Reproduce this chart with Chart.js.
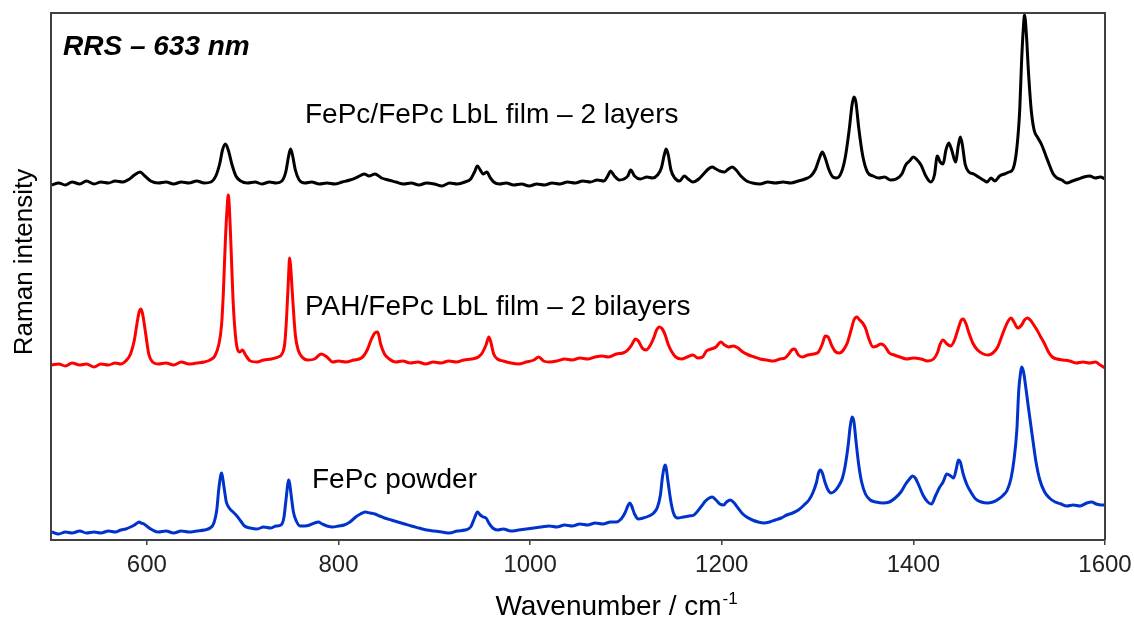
<!DOCTYPE html>
<html>
<head>
<meta charset="utf-8">
<script src="https://cdn.jsdelivr.net/npm/chart.js@4.4.0/dist/chart.umd.min.js"></script>
<style>
html,body{margin:0;padding:0;background:#fff;}
#wrap{width:1134px;height:620px;position:relative;}
</style>
</head>
<body>
<div id="wrap"><canvas id="c" width="1134" height="620"></canvas></div>
<script>
// ---- Data (wavenumber / cm-1, Raman intensity in arbitrary offset units) ----
const xTicks = [600, 800, 1000, 1200, 1400, 1600];

// FePc/FePc LbL film – 2 layers (black)
const filmX = [
  501,508,515,522,530,537,545,552,560,567,
  575,582,587,593,598,604,612,620,628,636,
  644,652,660,667,672,676,679,682,685,689,
  693,698,705,713,720,728,735,741,745,748,
  750,752,755,759,765,772,780,788,796,804,
  812,820,827,832,838,845,852,860,868,876,
  884,892,900,908,916,924,932,938,942,945,
  948,951,955,958,962,968,975,983,991,999,
  1007,1015,1023,1031,1039,1047,1055,1063,1070,1077,
  1081,1084,1088,1093,1098,1102,1105,1109,1115,1122,
  1128,1133,1137,1140,1142,1144,1147,1151,1156,1161,
  1165,1170,1176,1181,1186,1190,1194,1198,1203,1207,
  1211,1215,1220,1226,1232,1240,1248,1256,1264,1272,
  1280,1287,1293,1298,1302,1305,1308,1312,1316,1320,
  1325,1329,1333,1336,1338,1340,1343,1347,1352,1358,
  1364,1370,1376,1382,1388,1392,1396,1400,1404,1408,
  1413,1418,1422,1425,1428,1431,1434,1437,1440,1444,
  1447,1449,1451,1454,1458,1463,1468,1473,1477,1481,
  1485,1490,1495,1500,1504,1508,1511,1513,1515,1516,
  1518,1520,1523,1526,1530,1534,1538,1542,1546,1550,
  1555,1560,1566,1572,1578,1584,1590,1595,1600];
const filmY = [
  355,357,355,358,356,359,356,358,357,359,
  358,361,365,368,364,359,357,358,356,358,
  357,359,357,358,364,376,390,396,390,375,
  364,359,357,358,356,358,357,359,368,384,
  391,385,370,360,357,358,356,357,356,358,
  360,363,366,364,366,362,360,358,356,357,
  355,357,356,354,357,356,358,361,368,374,
  370,366,368,363,358,356,357,355,356,354,
  356,355,357,356,358,357,359,358,360,359,
  364,369,364,360,361,364,370,364,361,363,
  362,365,372,385,391,386,370,362,359,364,
  361,358,361,366,371,373,371,369,368,371,
  373,370,364,359,357,356,358,357,358,357,
  359,361,364,371,382,388,382,370,363,362,
  368,383,410,435,443,438,412,385,368,364,
  362,363,360,361,366,375,379,383,380,375,
  364,358,365,384,378,376,390,397,390,378,
  395,403,396,376,368,366,363,360,358,362,
  359,364,366,368,371,392,430,480,515,525,
  505,470,430,410,402,395,385,375,366,362,
  360,357,359,361,363,364,362,363,361];

// PAH/FePc LbL film – 2 bilayers (red)
const bilayerX = [
  501,508,515,522,530,537,545,552,560,567,
  573,578,583,587,590,592,594,596,599,602,
  606,612,620,628,636,644,652,660,666,671,
  675,678,680,682,684,685,686,688,690,693,
  697,700,703,708,715,722,730,737,741,744,
  746,748,749,750,752,755,758,762,768,775,
  782,788,794,800,808,816,824,830,834,838,
  841,844,848,853,860,867,875,883,891,899,
  907,915,923,931,939,946,950,954,957,959,
  962,966,972,980,988,996,1004,1009,1014,1020,
  1028,1036,1044,1052,1060,1068,1075,1082,1090,1097,
  1102,1106,1110,1113,1117,1121,1125,1129,1132,1135,
  1138,1141,1144,1148,1152,1158,1164,1170,1175,1180,
  1184,1189,1194,1199,1203,1207,1212,1217,1222,1228,
  1234,1240,1247,1254,1261,1266,1270,1273,1276,1280,
  1284,1290,1296,1301,1305,1308,1311,1315,1319,1323,
  1327,1331,1335,1338,1341,1344,1347,1350,1354,1358,
  1362,1366,1370,1375,1380,1386,1393,1400,1408,1415,
  1421,1425,1428,1431,1435,1439,1443,1447,1450,1452,
  1455,1458,1462,1467,1473,1478,1483,1488,1492,1496,
  1499,1502,1505,1509,1513,1516,1519,1522,1525,1529,
  1533,1537,1541,1545,1550,1556,1563,1570,1577,1584,
  1590,1595,1600];
const bilayerY = [
  175,176,174,177,175,176,173,176,175,177,
  176,179,186,200,218,228,231,224,205,186,
  178,176,177,175,178,176,177,178,180,184,
  195,215,250,300,335,345,335,290,240,200,
  188,190,185,179,178,180,181,183,186,197,
  225,265,282,275,245,205,190,183,180,181,
  186,183,178,179,178,180,182,190,200,207,
  208,196,186,181,178,179,177,178,176,178,
  177,179,178,180,181,183,187,195,203,198,
  186,181,179,177,176,178,180,183,179,178,
  179,181,180,182,181,183,184,183,186,187,
  190,195,201,199,192,190,194,202,210,213,
  211,205,196,188,183,181,183,185,182,183,
  189,191,193,198,195,193,194,192,188,185,
  183,181,180,179,181,182,186,190,191,185,
  183,185,186,188,196,204,203,194,188,187,
  190,197,210,220,223,220,217,212,200,193,
  194,196,194,187,185,183,181,182,181,179,
  181,187,196,200,196,194,200,212,220,221,
  216,207,197,190,186,185,187,193,203,213,
  219,222,218,212,215,220,222,220,216,210,
  203,196,188,183,181,180,179,177,178,177,
  178,175,172];

// FePc powder (blue)
const powderX = [
  501,508,515,522,530,537,545,552,560,567,
  573,578,583,587,590,592,594,597,601,606,
  612,620,628,636,644,652,660,666,670,673,
  675,677,678,679,681,683,686,690,694,698,
  702,708,715,722,729,735,740,743,745,747,
  748,749,751,753,756,760,765,770,775,779,
  783,788,794,800,806,812,818,823,828,833,
  838,843,848,855,862,869,876,884,892,900,
  908,916,924,932,938,942,945,948,951,954,
  957,961,966,972,980,988,996,1004,1012,1020,
  1028,1036,1044,1052,1060,1068,1076,1084,1090,1095,
  1099,1102,1104,1106,1109,1113,1118,1124,1129,1133,
  1136,1138,1140,1141,1142,1144,1147,1150,1154,1160,
  1166,1171,1175,1179,1183,1187,1190,1194,1198,1202,
  1205,1209,1213,1217,1221,1226,1232,1238,1244,1250,
  1256,1262,1268,1274,1280,1286,1291,1295,1299,1301,
  1303,1305,1308,1311,1314,1318,1322,1326,1329,1332,
  1334,1336,1338,1340,1343,1346,1350,1355,1361,1368,
  1375,1381,1387,1392,1396,1399,1402,1406,1410,1415,
  1419,1423,1427,1431,1435,1439,1442,1445,1447,1449,
  1452,1456,1460,1465,1471,1477,1483,1489,1494,1498,
  1502,1505,1508,1510,1512,1513,1515,1517,1520,1524,
  1528,1532,1537,1542,1548,1554,1560,1567,1574,1581,
  1586,1591,1596,1600];
const powderY = [
  8,6,8,7,9,7,8,7,9,8,
  10,11,13,15,17,18,17,16,13,10,
  8,9,7,9,8,9,10,12,17,30,
  50,64,67,63,50,38,32,28,24,19,
  14,12,11,13,12,14,15,22,38,55,
  60,57,42,28,19,14,14,15,17,18,
  16,14,13,14,15,18,23,26,28,27,
  26,24,22,20,18,16,14,12,10,9,
  8,7,9,10,13,22,28,25,23,22,
  17,12,10,11,9,10,11,12,13,14,
  13,15,14,16,15,17,16,18,18,21,
  27,34,37,34,26,21,22,24,27,33,
  45,62,73,75,72,58,38,26,22,23,
  24,25,29,34,39,42,43,40,36,35,
  38,40,37,32,27,23,20,18,17,18,
  20,22,25,27,30,35,40,47,58,67,
  70,67,57,50,47,49,54,62,75,95,
  113,123,118,100,75,58,46,40,38,37,
  38,42,48,56,61,64,62,54,45,38,
  36,44,52,58,66,64,62,72,80,78,
  66,55,48,41,38,37,38,41,45,50,
  62,80,110,150,168,173,168,155,133,105,
  78,60,48,42,38,36,34,35,34,37,
  38,36,35,35];

const seriesNames = ["FePc/FePc LbL film – 2 layers", "PAH/FePc LbL film – 2 bilayers", "FePc powder"];
const seriesColors = ["#000000", "#ff0000", "#0033cc"];

const toPts = (xs, ys) => xs.map((x, i) => ({x: x, y: ys[i]}));

const FONT = "'Liberation Sans', Arial, sans-serif";
const AXIS = "#404040";

const annotate = {
  id: 'annotate',
  afterDraw(chart) {
    const ctx = chart.ctx;
    const a = chart.chartArea;
    ctx.save();
    // frame top & right
    ctx.strokeStyle = AXIS;
    ctx.lineWidth = 2;
    ctx.beginPath();
    ctx.moveTo(a.left, a.top);
    ctx.lineTo(a.right, a.top);
    ctx.lineTo(a.right, a.bottom);
    ctx.stroke();

    ctx.fillStyle = "#000";
    ctx.textBaseline = "alphabetic";
    ctx.textAlign = "left";
    // title inside plot
    ctx.font = "italic bold 28px " + FONT;
    ctx.fillText("RRS – 633 nm", a.left + 12, a.top + 42);
    // series labels
    ctx.font = "28px " + FONT;
    ctx.fillText(seriesNames[0], a.left + 254, a.top + 110);
    ctx.fillText(seriesNames[1], a.left + 254, a.top + 302);
    ctx.fillText(seriesNames[2], a.left + 261, a.top + 475);

    // x axis title with superscript
    const xt = "Wavenumber / cm";
    ctx.font = "28px " + FONT;
    const w1 = ctx.measureText(xt).width;
    ctx.font = "17px " + FONT;
    const w2 = ctx.measureText("-1").width;
    const cx = (a.left + a.right) / 2 + 38;
    const x0 = cx - (w1 + w2) / 2;
    ctx.font = "28px " + FONT;
    ctx.fillText(xt, x0, 615);
    ctx.font = "17px " + FONT;
    ctx.fillText("-1", x0 + w1 + 1, 604);

    // y axis title
    ctx.font = "26px " + FONT;
    ctx.translate(32, 262);
    ctx.rotate(-Math.PI / 2);
    ctx.textAlign = "center";
    ctx.fillText("Raman intensity", 0, 0);
    ctx.restore();
  }
};

new Chart(document.getElementById('c'), {
  type: 'line',
  data: {
    datasets: [
      {label: seriesNames[0], data: toPts(filmX, filmY), borderColor: seriesColors[0]},
      {label: seriesNames[1], data: toPts(bilayerX, bilayerY), borderColor: seriesColors[1]},
      {label: seriesNames[2], data: toPts(powderX, powderY), borderColor: seriesColors[2]}
    ].map(d => Object.assign(d, {borderWidth: 3, pointRadius: 0, fill: false, cubicInterpolationMode: 'monotone'}))
  },
  options: {
    responsive: false,
    animation: false,
    devicePixelRatio: 1,
    layout: {padding: {top: 13, right: 29, left: 0, bottom: 0}},
    plugins: {legend: {display: false}, tooltip: {enabled: false}, title: {display: false}},
    scales: {
      x: {
        type: 'linear', min: 500, max: 1600,
        afterBuildTicks: s => { s.ticks = xTicks.map(v => ({value: v})); },
        afterFit: s => { s.height = 80; s.paddingRight = 0; s.paddingLeft = 0; },
        grid: {display: true, drawOnChartArea: false, drawTicks: true, tickLength: 5, color: AXIS, lineWidth: 1.5},
        border: {display: true, color: AXIS, width: 2},
        ticks: {font: {family: FONT, size: 24}, color: '#222', padding: 6, maxRotation: 0, autoSkip: false,
                callback: v => String(v)}
      },
      y: {
        min: 0, max: 527,
        afterFit: s => { s.width = 51; s.paddingTop = 0; s.paddingBottom = 0; },
        grid: {display: false},
        border: {display: true, color: AXIS, width: 2},
        ticks: {display: false}
      }
    }
  },
  plugins: [annotate]
});
</script>
</body>
</html>
